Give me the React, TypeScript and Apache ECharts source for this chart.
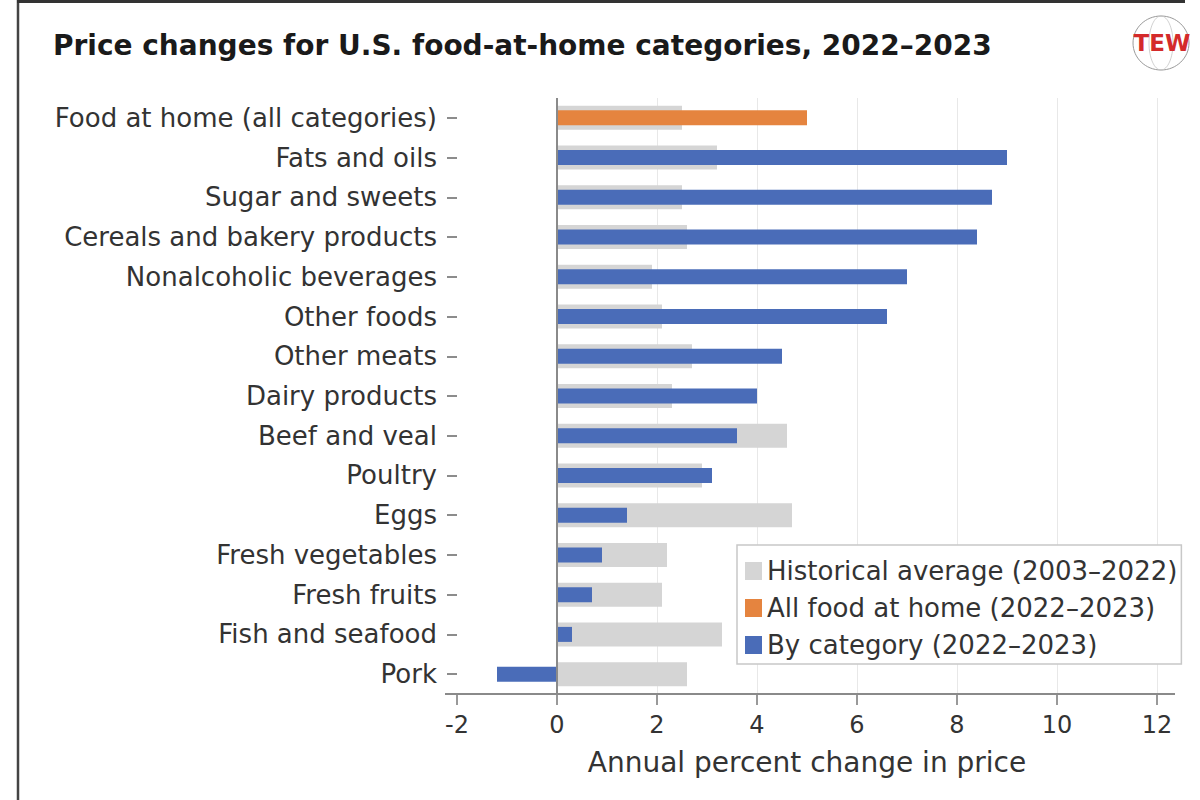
import React, { useEffect, useRef } from 'react';
import * as echarts from 'echarts';

const categories = [
  'Food at home (all categories)',
  'Fats and oils',
  'Sugar and sweets',
  'Cereals and bakery products',
  'Nonalcoholic beverages',
  'Other foods',
  'Other meats',
  'Dairy products',
  'Beef and veal',
  'Poultry',
  'Eggs',
  'Fresh vegetables',
  'Fresh fruits',
  'Fish and seafood',
  'Pork',
];
const historicalAverage = [2.5, 3.2, 2.5, 2.6, 1.9, 2.1, 2.7, 2.3, 4.6, 2.9, 4.7, 2.2, 2.1, 3.3, 2.6];
const allFoodAtHome = [5.0, '-', '-', '-', '-', '-', '-', '-', '-', '-', '-', '-', '-', '-', '-'];
const byCategory = ['-', 9.0, 8.7, 8.4, 7.0, 6.6, 4.5, 4.0, 3.6, 3.1, 1.4, 0.9, 0.7, 0.3, -1.2];
const seriesNames = ['Historical average (2003–2022)', 'All food at home (2022–2023)', 'By category (2022–2023)'];
const xMin = -2;
const xMax = 12;
const xInterval = 2;

const FONT = 'DejaVu Sans';

export default function App() {
  const ref = useRef<HTMLDivElement>(null);
  useEffect(() => {
    document.body.style.margin = '0';
    const chart = echarts.init(ref.current!, null, { renderer: 'svg' });
    const gridLeft = 457;
    const gridRight = 1157;
    const gridTop = 98;
    const gridBottom = 694;
    chart.setOption({
      animation: false,
      backgroundColor: '#ffffff',
      textStyle: { fontFamily: FONT },
      title: {
        text: 'Price changes for U.S. food-at-home categories, 2022–2023',
        left: 48,
        top: 26,
        textStyle: { fontFamily: FONT, fontSize: 28, fontWeight: 'bold', color: '#1a1a1a' },
      },
      legend: {
        orient: 'vertical',
        left: 737,
        top: 545,
        padding: [13, 4, 6, 8],
        itemWidth: 17,
        itemHeight: 18,
        itemGap: 11,
        icon: 'rect',
        backgroundColor: '#ffffff',
        borderColor: '#c8c8c8',
        borderWidth: 1.5,
        selectedMode: false,
        data: seriesNames,
        textStyle: { fontFamily: FONT, fontSize: 26, color: '#333333', lineHeight: 26 },
      },
      grid: {
        left: gridLeft,
        right: 1200 - gridRight,
        top: gridTop,
        bottom: 800 - gridBottom,
        containLabel: false,
      },
      xAxis: {
        type: 'value',
        min: xMin,
        max: xMax,
        interval: xInterval,
        axisLine: { show: false, onZero: false },
        axisTick: { show: true, length: 11, lineStyle: { color: '#777777', width: 1.5 } },
        axisLabel: { fontFamily: FONT, fontSize: 24, color: '#333333', margin: 19 },
        splitLine: { show: true, showMinLine: false, lineStyle: { color: '#e8e8e8', width: 1 } },
        name: 'Annual percent change in price',
        nameLocation: 'middle',
        nameGap: 54,
        nameTextStyle: { fontFamily: FONT, fontSize: 28, color: '#333333' },
      },
      yAxis: [
        {
          type: 'category',
          position: 'left',
          data: categories,
          inverse: true,
          axisLine: { show: false, onZero: false },
          axisTick: { show: true, alignWithLabel: true, length: 10, lineStyle: { color: '#666666', width: 1.5 } },
          axisLabel: { fontFamily: FONT, fontSize: 26, color: '#333333', margin: 20 },
          splitLine: { show: false },
        },
        {
          type: 'category',
          position: 'left',
          data: categories,
          inverse: true,
          show: false,
          axisLine: { onZero: false },
        },
      ],
      series: [
        {
          name: seriesNames[0],
          type: 'bar',
          yAxisIndex: 0,
          data: historicalAverage,
          barWidth: 24,
          itemStyle: { color: '#d5d5d5' },
          emphasis: { disabled: true },
          silent: true,
          markLine: {
            silent: true,
            symbol: ['none', 'none'],
            label: { show: false },
            lineStyle: { color: '#8a8a8a', width: 2, type: 'solid' },
            data: [{ xAxis: 0 }],
          },
        },
        {
          name: seriesNames[1],
          type: 'bar',
          yAxisIndex: 1,
          stack: 'current',
          data: allFoodAtHome,
          barWidth: 15,
          itemStyle: { color: '#e5843f' },
          emphasis: { disabled: true },
          silent: true,
        },
        {
          name: seriesNames[2],
          type: 'bar',
          yAxisIndex: 1,
          stack: 'current',
          data: byCategory,
          barWidth: 15,
          itemStyle: { color: '#4a6cb8' },
          emphasis: { disabled: true },
          silent: true,
        },
      ],
      graphic: [
        { type: 'line', shape: { x1: 18, y1: 0, x2: 18, y2: 800 }, style: { stroke: '#444444', lineWidth: 2.5 }, silent: true },
        { type: 'line', shape: { x1: 17, y1: 1.5, x2: 1185, y2: 1.5 }, style: { stroke: '#333333', lineWidth: 3 }, silent: true },
        { type: 'line', shape: { x1: 445, y1: gridBottom, x2: 1175, y2: gridBottom }, style: { stroke: '#8a8a8a', lineWidth: 2 }, silent: true, z: 10 },
        { type: 'ellipse', shape: { cx: 1161, cy: 43, rx: 28, ry: 27 }, style: { fill: 'none', stroke: '#9a9a9a', lineWidth: 1 }, silent: true },
        { type: 'ellipse', shape: { cx: 1161, cy: 43, rx: 12, ry: 27 }, style: { fill: 'none', stroke: '#c4c4c4', lineWidth: 0.8 }, silent: true },
        {
          type: 'text',
          x: 1162,
          y: 43,
          style: {
            text: 'TEW',
            fill: '#d42a2a',
            font: 'bold 23px "DejaVu Sans"',
            align: 'center',
            verticalAlign: 'middle',
          },
          silent: true,
          z: 5,
        },
      ],
    });
    return () => chart.dispose();
  }, []);
  return <div ref={ref} style={{ position: 'absolute', left: 0, top: 0, width: 1200, height: 800 }} />;
}
